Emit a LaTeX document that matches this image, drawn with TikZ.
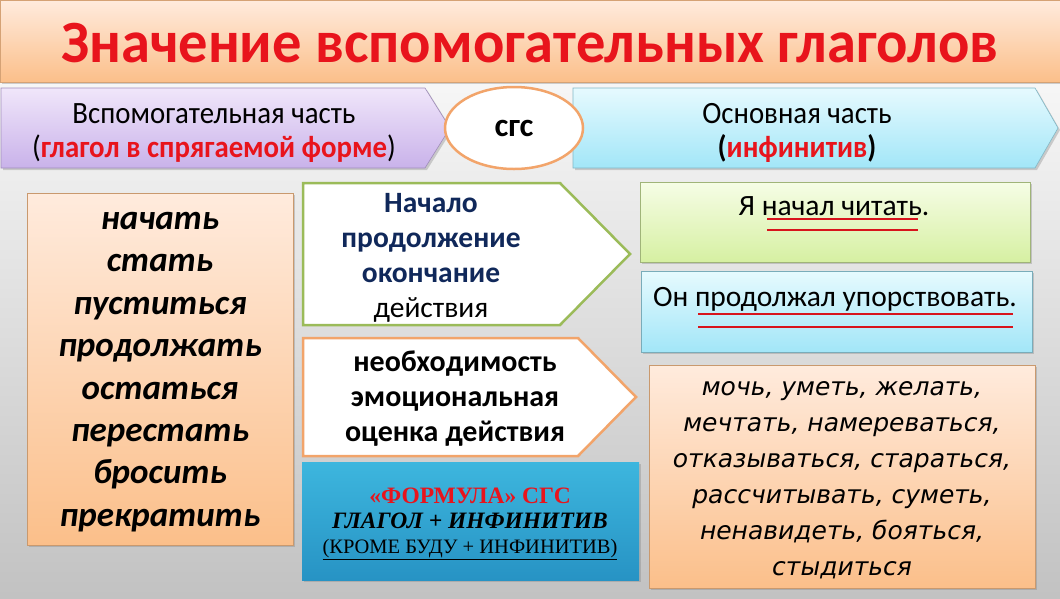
\documentclass[tikz,border=0pt]{standalone}
\usepackage{fontspec}
\setmainfont{Carlito}
\newfontfamily\tms{Liberation Serif}
\newfontfamily\dvs{DejaVu Sans}
\usetikzlibrary{shadows,shapes.geometric}
\definecolor{ttlred}{HTML}{E8141C}
\definecolor{navy}{HTML}{10285A}
\definecolor{grnb}{HTML}{9BBB59}
\definecolor{orgb}{HTML}{F2A46A}
\definecolor{peachT}{HTML}{FFEBDD}
\definecolor{peachB}{HTML}{FBBF8A}
\definecolor{lavT}{HTML}{F0E6FA}
\definecolor{lavB}{HTML}{C9B2EA}
\definecolor{cyT}{HTML}{E6FAFE}
\definecolor{cyB}{HTML}{A2E6F8}
\definecolor{grT}{HTML}{F6FDE6}
\definecolor{grB}{HTML}{D6F0A2}
\definecolor{formT}{HTML}{3DB6DE}
\definecolor{formB}{HTML}{2793C4}
\definecolor{ulred}{HTML}{D8141C}
\tikzset{
  shd/.style={drop shadow={opacity=0.35,shadow xshift=2pt,shadow yshift=-2pt}},
  peachbox/.style={shd,top color=peachT,bottom color=peachB,draw=peachB!80!black,line width=0.6pt},
  txt/.style={inner sep=0pt,align=center},
  ul/.style={draw=ulred,line width=2.2pt}
}
\begin{document}
\begin{tikzpicture}[x=1pt,y=-1pt]
\useasboundingbox (0,0) rectangle (1060,598);
\shade[top color=white,bottom color=black!24] (0,0) rectangle (1060,598);
% title
\path[shd,top color=peachT,bottom color=peachB,draw=peachB!85!black,line width=0.8pt] (0,0) rectangle (1060,82);
\node[txt,text=ttlred,font=\bfseries\fontsize{60}{62}\selectfont] (title) at (530,43) {\scalebox{0.975}[1]{Значение вспомогательных глаголов}};
% header arrows
\path[shd,top color=lavT,bottom color=lavB,draw=lavB!80!black,line width=0.6pt] (1,88) -- (425,88) -- (450,128) -- (425,168) -- (1,168) -- cycle;
\node[txt,font=\fontsize{31}{34}\selectfont] (aux) at (214,133) {\scalebox{0.93}[1]{Вспомогательная часть}\\\scalebox{0.93}[1]{(\textcolor{ttlred}{\bfseries глагол в спрягаемой форме})}};
\path[shd,top color=cyT,bottom color=cyB,draw=cyB!80!black,line width=0.6pt] (573,88) -- (1035,88) -- (1058,128) -- (1035,168) -- (573,168) -- cycle;
\node[txt,font=\fontsize{31}{34}\selectfont] (main) at (797,133) {\scalebox{0.93}[1]{Основная часть}\\\scalebox{0.93}[1]{\bfseries(\textcolor{ttlred}{инфинитив})}};
\node[draw=orgb,line width=2.5pt,fill=white,ellipse,minimum width=138pt,minimum height=82pt,inner sep=0pt,font=\bfseries\fontsize{33}{36}\selectfont] (sgs) at (514,128) {сгс};
% left list
\path[peachbox] (27,193) rectangle (293,545);
\node[txt,font=\bfseries\itshape\fontsize{35}{42.4}\selectfont] (list) at (160,372) {начать\\стать\\пуститься\\продолжать\\остаться\\перестать\\бросить\\прекратить};
% green pentagon
\path[draw=grnb,line width=2.5pt,fill=white] (303,183) -- (560,183) -- (630,254) -- (560,325) -- (303,325) -- cycle;
\node[txt,font=\fontsize{29.5}{35}\selectfont] (phase) at (431,258) {\textcolor{navy}{\bfseries Начало}\\\textcolor{navy}{\bfseries продолжение}\\\textcolor{navy}{\bfseries окончание}\\действия};
% orange pentagon
\path[draw=orgb,line width=2.5pt,fill=white] (303,338) -- (578,338) -- (636,397) -- (578,456) -- (303,456) -- cycle;
\node[txt,font=\bfseries\fontsize{30}{35}\selectfont] (modal) at (455,399) {необходимость\\эмоциональная\\оценка действия};
% formula
\path[shd,top color=formT,bottom color=formB] (302,462) rectangle (639,580);
\node[txt,font=\tms\fontsize{23.5}{25}\selectfont] (formula) at (470,524) {\textcolor{ttlred}{\bfseries«ФОРМУЛА» СГС}\\{\bfseries\itshape ГЛАГОЛ + ИНФИНИТИВ}\\{\fontsize{20.5}{25}\selectfont\underline{(КРОМЕ БУДУ + ИНФИНИТИВ)}}};
% example 1
\path[shd,top color=grT,bottom color=grB,draw=grB!75!black,line width=0.6pt] (640,182) rectangle (1030,262);
\node[txt,anchor=base,font=\fontsize{29.5}{32}\selectfont] (ex1) at (834,215) {Я начал читать.};
\coordinate (u1a) at (767,219); \coordinate (u1b) at (918,219);
\coordinate (u1c) at (767,230); \coordinate (u1d) at (918,230);
\draw[ul] (u1a) -- (u1b); \draw[ul] (u1c) -- (u1d);
% example 2
\path[shd,top color=cyT,bottom color=cyB,draw=cyB!75!black,line width=0.6pt] (641,271) rectangle (1032,352);
\node[txt,anchor=base,font=\fontsize{29.5}{32}\selectfont] (ex2) at (835,306) {Он продолжал упорствовать.};
\coordinate (u2a) at (698,314); \coordinate (u2b) at (1013,314);
\coordinate (u2c) at (698,327); \coordinate (u2d) at (1013,327);
\draw[ul] (u2a) -- (u2b); \draw[ul] (u2c) -- (u2d);
% right list
\path[peachbox] (649,365) rectangle (1035,588);
\node[txt,font=\dvs\itshape\fontsize{25}{36}\selectfont] (list2) at (842,480) {мочь, уметь, желать,\\мечтать, намереваться,\\отказываться, стараться,\\рассчитывать, суметь,\\ненавидеть, бояться,\\стыдиться};
\end{tikzpicture}
\end{document}
